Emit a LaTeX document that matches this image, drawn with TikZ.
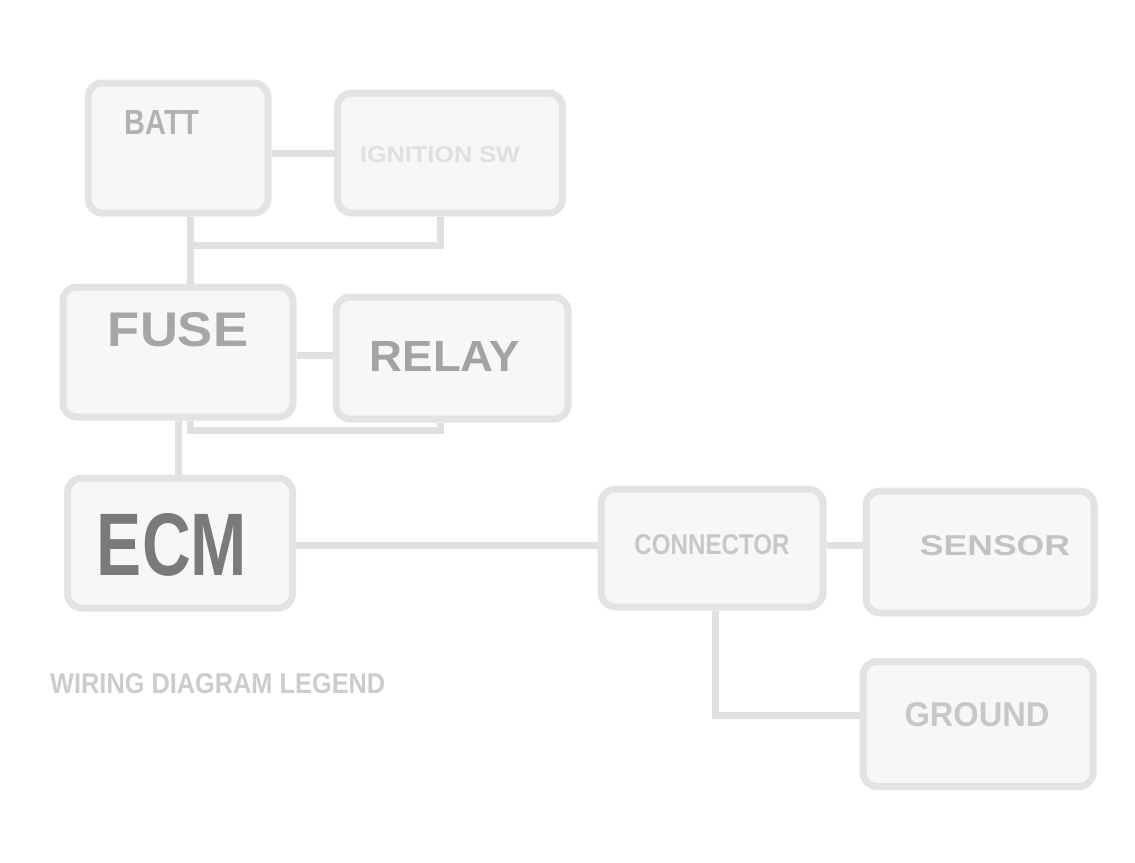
\documentclass[tikz,border=0pt]{standalone}
\usepackage{fontspec}
\usepackage{graphicx}
\setmainfont{Liberation Sans}
\newcommand{\fitbox}[3]{\resizebox{#1pt}{#2pt}{\bfseries #3}}
\begin{document}
\begin{tikzpicture}[x=1pt,y=-1pt,
  box/.style={draw=black!11,line width=7pt,rounded corners=14pt,fill=black!3},
  wire/.style={draw=black!12,line width=7pt},
  lbl/.style={inner sep=0pt}]
\useasboundingbox (0,0) rectangle (1135,862);
% boxes
\node[box,minimum width=180pt,minimum height=130pt] (a) at (178,148) {};
\node[box,minimum width=225pt,minimum height=120pt] (b) at (450,153) {};
\node[box,minimum width=230pt,minimum height=130pt] (c) at (178,352) {};
\node[box,minimum width=232pt,minimum height=122pt] (d) at (452,358) {};
\node[box,minimum width=225pt,minimum height=130pt] (e) at (180,543) {};
\node[box,minimum width=222pt,minimum height=118pt] (f) at (712,548) {};
\node[box,minimum width=228pt,minimum height=122pt] (g) at (980,552) {};
\node[box,minimum width=230pt,minimum height=125pt] (h) at (978,724) {};
% labels
\node[lbl,text=black!30] (ta) at (162,122) {\fitbox{75}{24}{BATT}};
\node[lbl,text=black!12] (tb) at (440,155) {\fitbox{160}{16}{IGNITION SW}};
\node[lbl,text=black!35] (tc) at (178,330) {\fitbox{140}{34}{FUSE}};
\node[lbl,text=black!36] (td) at (445,356) {\fitbox{150}{30}{RELAY}};
\node[lbl,text=black!52] (te) at (172,545) {\fitbox{150}{62}{ECM}};
\node[lbl,text=black!22] (tf) at (712,545) {\fitbox{155}{20}{CONNECTOR}};
\node[lbl,text=black!24] (tg) at (995,546) {\fitbox{150}{20}{SENSOR}};
\node[lbl,text=black!22] (th) at (977,715) {\fitbox{145}{24}{GROUND}};
\node[lbl,text=black!20,anchor=west] (tl) at (50,684) {\fitbox{335}{20}{WIRING DIAGRAM LEGEND}};
% connectors
\coordinate (j1) at (190,245);
\coordinate (j2) at (440,245);
\coordinate (j3) at (190,430);
\coordinate (j4) at (440,430);
\coordinate (k1) at (715,715);
\coordinate (r1) at (0,153);
\coordinate (r2) at (0,355);
\coordinate (r3) at (0,545);
\draw[wire] (a.east |- r1) -- (b.west |- r1);
\draw[wire] (a.south -| j1) -- (j1) -- (j2) -- (b.south -| j2);
\draw[wire] (j1) -- (c.north -| j1);
\draw[wire] (c.east |- r2) -- (d.west |- r2);
\draw[wire] (c.south -| j3) -- (j3) -- (j4) -- (d.south -| j4);
\draw[wire] (c.south -| tc) -- (e.north -| tc);
\draw[wire] (e.east |- r3) -- (f.west |- r3);
\draw[wire] (f.east |- r3) -- (g.west |- r3);
\draw[wire] (f.south -| k1) -- (k1) -- (h.west |- k1);
\end{tikzpicture}
\end{document}
